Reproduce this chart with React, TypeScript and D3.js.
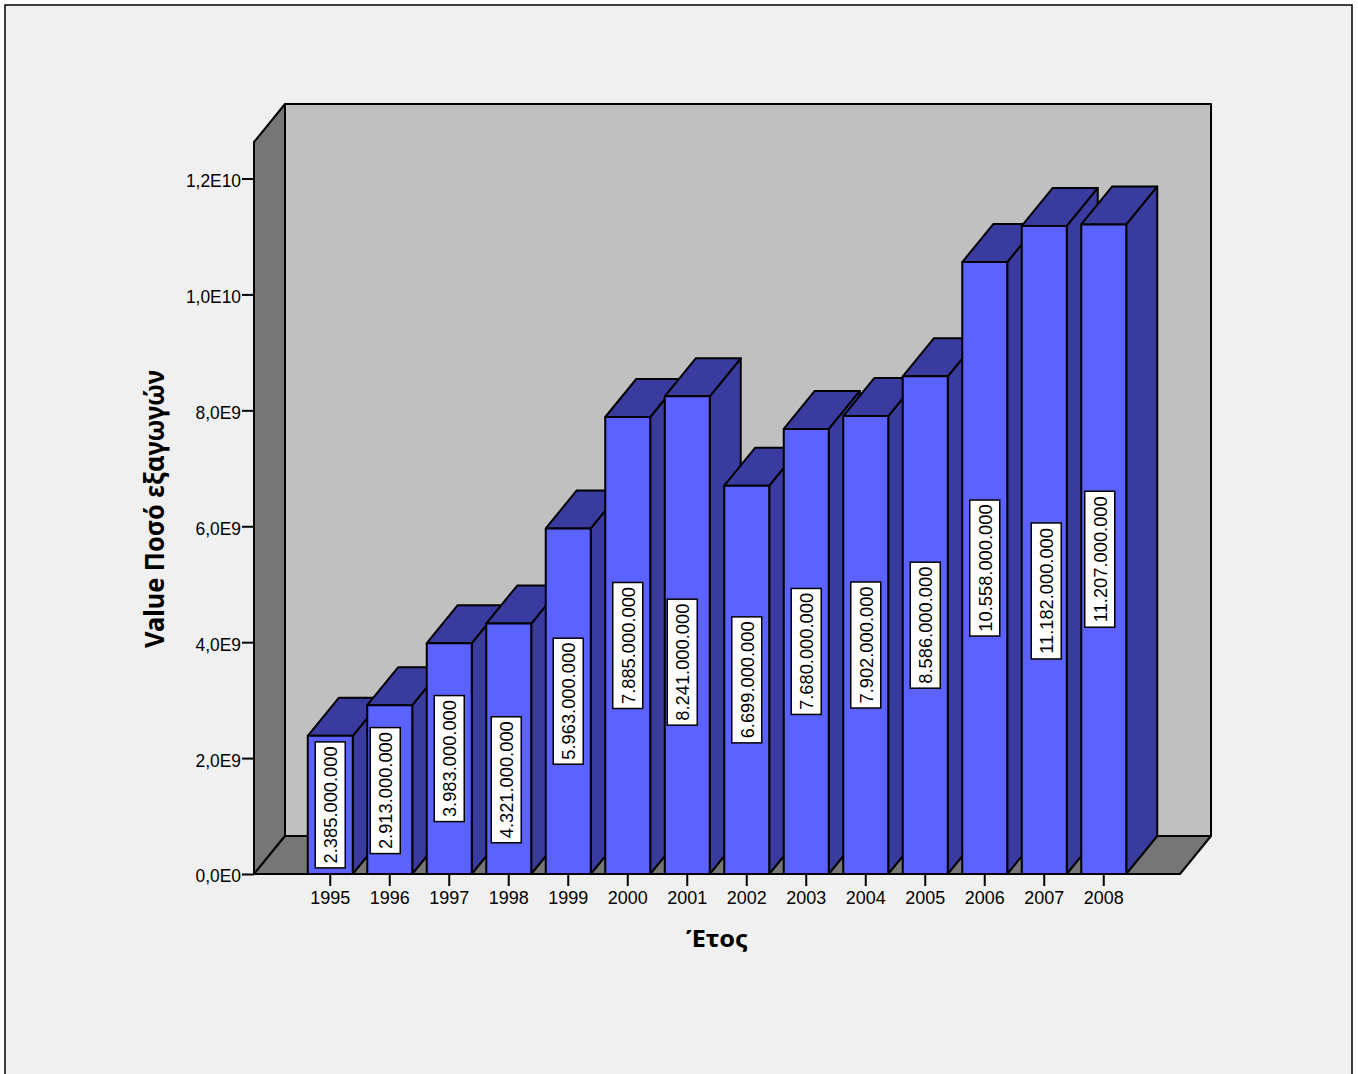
// 3D bar chart of yearly export values, drawn with D3
import React, { useEffect, useRef } from 'react';
import * as d3 from 'd3';

const years = ['1995', '1996', '1997', '1998', '1999', '2000', '2001', '2002', '2003', '2004', '2005', '2006', '2007', '2008'];
const exportsValue = [2385e6, 2913e6, 3983e6, 4321e6, 5963e6, 7885e6, 8241e6, 6699e6, 7680e6, 7902e6, 8586e6, 10558e6, 11182e6, 11207e6];
const valueLabels = ['2.385.000.000', '2.913.000.000', '3.983.000.000', '4.321.000.000', '5.963.000.000', '7.885.000.000', '8.241.000.000', '6.699.000.000', '7.680.000.000', '7.902.000.000', '8.586.000.000', '10.558.000.000', '11.182.000.000', '11.207.000.000'];
const yTicks = [0, 2e9, 4e9, 6e9, 8e9, 1e10, 1.2e10];
const yTitle = 'Value Ποσό εξαγωγών';
const xTitle = 'Έτος';

// labels the original moved off the bar centre to avoid overlaps: [dx, dy] px
const labelNudge: Record<string, [number, number]> = {
  '1996': [-4.5, 1],
  '1998': [-2.5, 31],
  '2001': [-5, 27],
  '2007': [2, 41],
  '2008': [-4, 10],
};

const W = 1358;
const H = 1074;
const left = 254;
const right = 1180;
const baseY = 874;
const topY = 142;
const depthX = 31;
const depthY = -38;

const pathFrom = (pts: [number, number][]) => `M${pts.map(p => p.join(',')).join('L')}Z`;

// the source picture was stretched a little, so its text is narrower than the font
const condense = (sel: any, factor: number) => {
  sel.each(function (this: SVGTextElement) {
    const len = this.getComputedTextLength();
    d3.select(this).attr('textLength', len * factor).attr('lengthAdjust', 'spacingAndGlyphs');
  });
};

const App = () => {
  const svgRef = useRef<SVGSVGElement>(null);

  useEffect(() => {
    if (!svgRef.current) return;
    const svg = d3.select(svgRef.current);
    svg.selectAll('*').remove();

    const y = d3.scaleLinear().domain([0, 1.2e10]).range([baseY, 178.5]);
    const x = d3.scaleBand<string>()
      .domain(years)
      .range([left, right])
      .paddingInner(0.2437)
      .paddingOuter(0.9033);
    const bw = x.bandwidth();

    // background and outer frame
    svg.append('rect').attr('x', 0).attr('y', 0).attr('width', W).attr('height', H).attr('fill', '#ffffff');
    svg.append('rect').attr('x', 5).attr('y', 5).attr('width', 1347).attr('height', H + 20)
      .attr('fill', '#f0f0f0').attr('stroke', '#000').attr('stroke-width', 1.5);

    const stroke = (sel: any) => sel.attr('stroke', '#000').attr('stroke-width', 2).attr('stroke-linejoin', 'round');

    // back wall, side wall, floor
    const backTop = topY + depthY;
    const backBase = baseY + depthY;
    svg.append('path')
      .attr('d', pathFrom([[left + depthX, backTop], [right + depthX, backTop], [right + depthX, backBase], [left + depthX, backBase]]))
      .attr('fill', '#c0c0c0').call(stroke);
    svg.append('path')
      .attr('d', pathFrom([[left, topY], [left + depthX, backTop], [left + depthX, backBase], [left, baseY]]))
      .attr('fill', '#767676').call(stroke);
    svg.append('path')
      .attr('d', pathFrom([[left, baseY], [left + depthX, backBase], [right + depthX, backBase], [right, baseY]]))
      .attr('fill', '#767676').call(stroke);

    // bars, painted left to right so each one covers the side of the previous
    const bars = svg.append('g');
    years.forEach((yr, i) => {
      const x0 = x(yr) as number;
      const x1 = x0 + bw;
      const yTop = y(exportsValue[i]);
      const g = bars.append('g');
      g.append('path')
        .attr('d', pathFrom([[x1, yTop], [x1 + depthX, yTop + depthY], [x1 + depthX, baseY + depthY], [x1, baseY]]))
        .attr('fill', '#393c9e').call(stroke);
      g.append('path')
        .attr('d', pathFrom([[x0, yTop], [x0 + depthX, yTop + depthY], [x1 + depthX, yTop + depthY], [x1, yTop]]))
        .attr('fill', '#393c9e').call(stroke);
      g.append('rect')
        .attr('x', x0).attr('y', yTop).attr('width', bw).attr('height', baseY - yTop)
        .attr('fill', '#5c62ff').call(stroke);
    });

    // value labels
    const labelFont = 'Liberation Sans, Arial, sans-serif';
    years.forEach((yr, i) => {
      const [dx, dy] = labelNudge[yr] || [0, 0];
      const cx = (x(yr) as number) + bw / 2 + dx;
      const cy = (y(exportsValue[i]) + baseY) / 2 + dy;
      const boxH = valueLabels[i].length > 13 ? 136 : 126;
      svg.append('rect')
        .attr('x', cx - 15).attr('y', cy - boxH / 2).attr('width', 30).attr('height', boxH)
        .attr('fill', '#fff').attr('stroke', '#000').attr('stroke-width', 1.5);
      svg.append('text')
        .attr('transform', `translate(${cx},${cy}) rotate(-90)`)
        .attr('text-anchor', 'middle').attr('dy', '0.36em')
        .attr('font-family', labelFont).attr('font-size', 19).attr('fill', '#000')
        .text(valueLabels[i])
        .call(condense, 0.963);
    });

    // axes
    const fmt = (v: d3.NumberValue) => {
      const [m, e] = d3.format('.1e')(v).split('e');
      return `${m.replace('.', ',')}E${+e}`;
    };
    const yAxis = svg.append('g')
      .attr('transform', `translate(${left},0)`)
      .call(d3.axisLeft(y).tickValues(yTicks).tickFormat(fmt).tickSize(12).tickPadding(1));
    const xAxis = svg.append('g')
      .attr('transform', `translate(0,${baseY})`)
      .call(d3.axisBottom(x).tickSize(12).tickPadding(5));
    [yAxis, xAxis].forEach(a => {
      a.select('.domain').remove();
      a.selectAll('line').attr('stroke', '#000').attr('stroke-width', 2);
      a.selectAll('text').attr('font-family', labelFont).attr('font-size', 19).attr('fill', '#000');
    });
    yAxis.selectAll('text').attr('dy', '0.42em').call(condense, 0.915);
    xAxis.selectAll('text').call(condense, 0.945);
    // floor front edge on top of the bar bottoms
    svg.append('line').attr('x1', left).attr('x2', right).attr('y1', baseY).attr('y2', baseY)
      .attr('stroke', '#000').attr('stroke-width', 2);

    // axis titles
    const titleFont = 'Noto Sans, DejaVu Sans, sans-serif';
    svg.append('text')
      .attr('transform', 'translate(164,509) rotate(-90)')
      .attr('text-anchor', 'middle').attr('font-family', titleFont).attr('font-weight', 'bold')
      .attr('font-size', 26).attr('fill', '#000').attr('textLength', 278).attr('lengthAdjust', 'spacingAndGlyphs')
      .text(yTitle);
    svg.append('text')
      .attr('x', 717).attr('y', 947)
      .attr('text-anchor', 'middle').attr('font-family', titleFont).attr('font-weight', 'bold')
      .attr('font-size', 24).attr('fill', '#000').attr('textLength', 62).attr('lengthAdjust', 'spacingAndGlyphs')
      .text(xTitle);
  }, []);

  return <svg ref={svgRef} width={W} height={H} style={{ position: 'absolute', left: 0, top: 0 }} />;
};

export default App;
